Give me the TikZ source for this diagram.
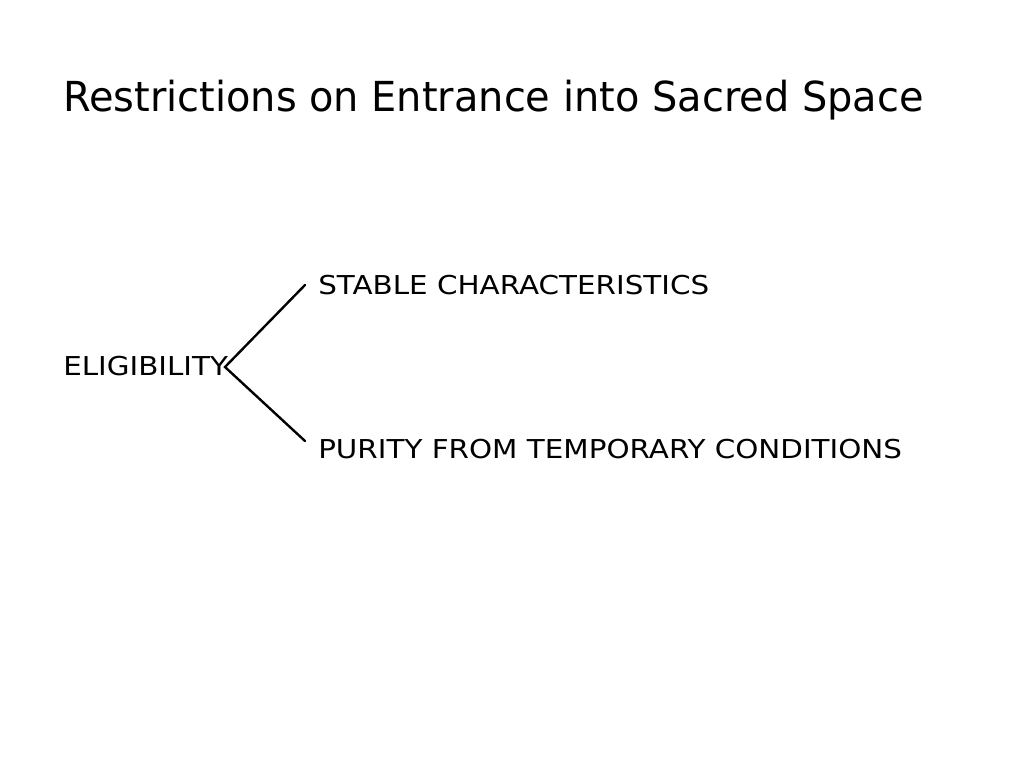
\documentclass[tikz,border=0pt]{standalone}
\usepackage{fontspec}
\setmainfont{DejaVu Sans}
\newfontfamily\headfont[FakeStretch=0.965]{DejaVu Sans}
\newfontfamily\itemfont[FakeStretch=1.13]{DejaVu Sans}
\usepackage{tikz}

\begin{document}
\begin{tikzpicture}[x=0.75pt,y=-0.75pt,
    heading/.style={anchor=base west,inner sep=0pt,font=\headfont\fontsize{31}{36}\selectfont},
    item/.style={anchor=base west,inner sep=0pt,font=\itemfont\fontsize{19.5}{24}\selectfont},
    branch/.style={line width=1.8pt,line cap=round}]
    % Page frame
    \useasboundingbox (0,0) rectangle (1024,768);

    % Title
    \node[heading] (title) at (63,111) {Restrictions on Entrance into Sacred Space};

    % Labels
    \node[item] (elig) at (63,375) {ELIGIBILITY};
    \node[item] (stable) at (318,294) {STABLE CHARACTERISTICS};
    \node[item] (purity) at (318,458) {PURITY FROM TEMPORARY CONDITIONS};

    % Fork
    \coordinate (fork) at (225,367);
    \coordinate (upper) at (305,285);
    \coordinate (lower) at (305,441);
    \draw[branch] (upper) -- (fork) -- (lower);

\end{tikzpicture}
\end{document}
